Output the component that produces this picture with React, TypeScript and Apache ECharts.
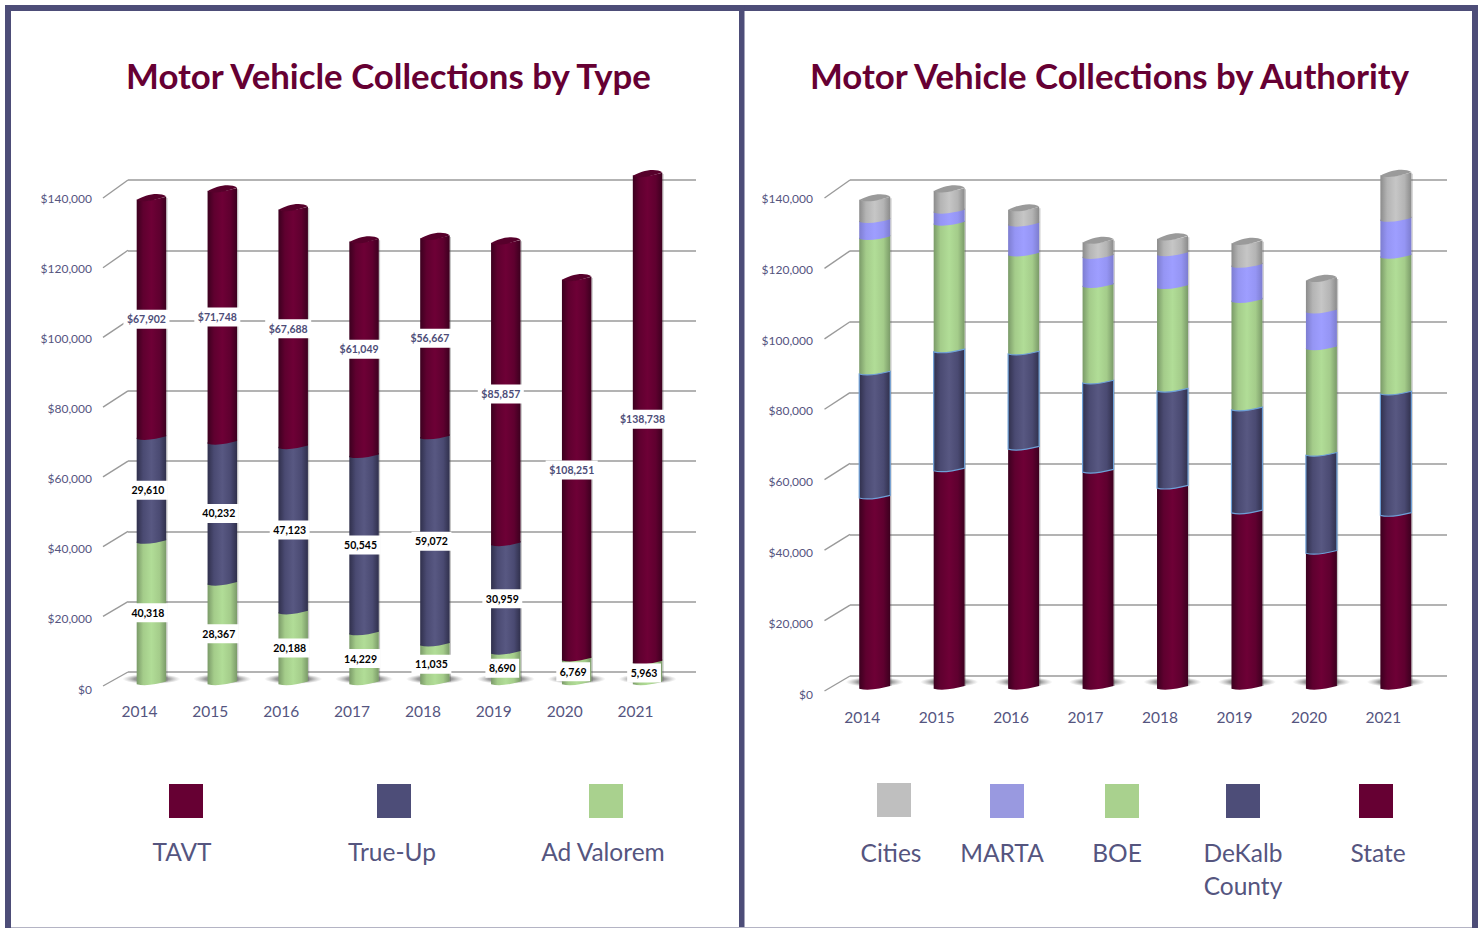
import React, { useEffect, useRef } from "react";
import * as echarts from "echarts";

const years = ["2014", "2015", "2016", "2017", "2018", "2019", "2020", "2021"];
const yTicks = [0, 20000, 40000, 60000, 80000, 100000, 120000, 140000];

const tavt = [67902, 71748, 67688, 61049, 56667, 85857, 108251, 138738];
const trueUp = [29610, 40232, 47123, 50545, 59072, 30959, 0, 0];
const adValorem = [40318, 28367, 20188, 14229, 11035, 8690, 6769, 5963];

const state = [53900, 61600, 67700, 61200, 56700, 49700, 38300, 49000];
const dekalb = [34650, 33200, 26500, 24800, 27000, 28700, 27300, 33900];
const boe = [38500, 36300, 28200, 27500, 29500, 30900, 30300, 38900];
const marta = [4800, 3400, 8450, 8200, 9300, 9900, 10400, 10400];
const cities = [5980, 5847, 4149, 4123, 4274, 6306, 8720, 12501];

const FONT = "Lato, 'Open Sans', sans-serif";
const NAVY = "#4d4d78";
const MAROON = "#660033";

type Pal = { edge: string; side: string; mid: string; cap: string; stroke?: string };
const pal: Record<string, Pal> = {
  maroon: { edge: "#3c001f", side: "#5f002f", mid: "#6e0036", cap: "#57002b" },
  navy: { edge: "#30304c", side: "#4a4a72", mid: "#585882", cap: "#3d3d60" },
  navyLine: { edge: "#30304c", side: "#4a4a72", mid: "#585882", cap: "#3d3d60", stroke: "#6ea0d8" },
  green: { edge: "#7a9a68", side: "#a4cc8a", mid: "#b1dd97", cap: "#8fb57a" },
  lilac: { edge: "#7d7dd0", side: "#9595f4", mid: "#9e9eff", cap: "#8484d8" },
  gray: { edge: "#8b8b8b", side: "#b4b4b4", mid: "#c6c6c6", cap: "#9a9a9a" },
};

function grad(p: Pal) {
  return new echarts.graphic.LinearGradient(0, 0, 1, 0, [
    { offset: 0, color: p.edge },
    { offset: 0.22, color: p.side },
    { offset: 0.5, color: p.mid },
    { offset: 0.78, color: p.side },
    { offset: 1, color: p.edge },
  ]);
}

function makeCylinders(p: Pal, dx: number, dy: number, width: number) {
  return (_: any, api: any) => {
    const i = api.value(0);
    const v0 = api.value(1);
    const v1 = api.value(2);
    if (v1 <= v0) return null;
    const c0 = api.coord([i, v0]);
    const c1 = api.coord([i, v1]);
    const x0 = c0[0] + dx - width / 2;
    const x1 = x0 + width;
    const y0 = c0[1] + dy;
    const y1 = c1[1] + dy;
    const t = 1.35;
    const s = 2.4;
    const a = x0 + width * 0.3;
    const b = x0 + width * 0.7;
    const d =
      `M${x0} ${y1 + t}C${a} ${y1 + t + s} ${b} ${y1 - t + s} ${x1} ${y1 - t}` +
      `L${x1} ${y0 - t}C${b} ${y0 - t + s} ${a} ${y0 + t + s} ${x0} ${y0 + t}Z`;
    const children: any[] = [
      {
        type: "line",
        shape: { x1: x1 + 0.7, y1: y1, x2: x1 + 0.7, y2: y0 },
        style: { stroke: "rgba(90,90,90,0.35)", lineWidth: 1.2 },
      },
      {
        type: "path",
        shape: { pathData: d, x: x0, y: y1 - t, width, height: y0 - y1 + 2 * t + s, layout: "cover" },
        style: { fill: grad(p), stroke: p.stroke || "none", lineWidth: p.stroke ? 1.2 : 0 },
      },
    ];
    if (api.value(3)) {
      const u = 3.6;
      const cap =
        `M${x0} ${y1 + t}C${x0 + width * 0.25} ${y1 + t - u} ${x0 + width * 0.75} ${y1 - t - u} ${x1} ${y1 - t}` +
        `C${b} ${y1 - t + s} ${a} ${y1 + t + s} ${x0} ${y1 + t}Z`;
      children.push({
        type: "path",
        shape: { pathData: cap, x: x0, y: y1 - t - 0.75 * u, width, height: 2 * t + 0.75 * u + 0.75 * s, layout: "cover" },
        style: { fill: p.cap },
      });
    }
    return { type: "group", children };
  };
}

function makeShadow(dx: number, dy: number) {
  return (_: any, api: any) => {
    const c = api.coord([api.value(0), 0]);
    return {
      type: "circle",
      x: c[0] + dx,
      y: c[1] + dy,
      scaleX: 5.8,
      shape: { cx: 0, cy: 0, r: 5 },
      style: {
        fill: new echarts.graphic.RadialGradient(0.5, 0.5, 0.5, [
          { offset: 0, color: "rgba(60,60,60,0.8)" },
          { offset: 0.6, color: "rgba(90,90,90,0.6)" },
          { offset: 1, color: "rgba(140,140,140,0)" },
        ]),
      },
    };
  };
}

function makeDiagonals(dx: number, dyTop: number, dyBottom: number) {
  return (_: any, api: any) => {
    const v = api.value(0);
    const c = api.coord([0, v]);
    const bandLeft = c[0] - api.size([1, 0])[0] / 2;
    const dy = dyBottom + ((dyTop - dyBottom) * v) / 140000;
    return {
      type: "line",
      shape: { x1: bandLeft, y1: c[1], x2: bandLeft - dx, y2: c[1] + dy },
      style: { stroke: "#9a9a9a", lineWidth: 1.4 },
    };
  };
}

function makeLabel(color: string, prefix: string, dx: number, dy: number) {
  return (_: any, api: any) => {
    const v0 = api.value(1);
    const v1 = api.value(2);
    if (v1 <= v0) return null;
    const c = api.coord([api.value(0), (v0 + v1) / 2]);
    return {
      type: "text",
      style: {
        x: c[0] + dx,
        y: c[1] + dy,
        text: prefix + (v1 - v0).toLocaleString("en-US"),
        align: "center",
        verticalAlign: "middle",
        fontFamily: FONT,
        fontWeight: "bold",
        fontSize: 10.5,
        fill: color,
        backgroundColor: "#fff",
        padding: [4, 3.5, 4, 3.5],
      },
    };
  };
}

function stackData(layers: number[][]) {
  return layers.map((vals, k) =>
    vals.map((v, i) => {
      let start = 0;
      for (let j = 0; j < k; j++) start += layers[j][i];
      let isTop = 1;
      for (let j = k + 1; j < layers.length; j++) if (layers[j][i] > 0) isTop = 0;
      return [i, start, start + v, isTop];
    })
  );
}

function buildOption() {
  const axisText = { color: "#55557f", fontFamily: FONT };
  const frontY = (grid: number) => ({
    type: "value",
    gridIndex: grid,
    min: 0,
    max: 140000,
    interval: 20000,
    axisLine: { show: false },
    axisTick: { show: false },
    splitLine: { show: false },
    axisLabel: {
      ...axisText,
      fontSize: 12,
      margin: 12,
      formatter: (v: number) => "$" + v.toLocaleString("en-US"),
    },
  });
  const backY = (grid: number) => ({
    type: "value",
    gridIndex: grid,
    min: 0,
    max: 140000,
    interval: 20000,
    axisLine: { show: false },
    axisTick: { show: false },
    axisLabel: { show: false },
    splitLine: { show: true, lineStyle: { color: "#9a9a9a", width: 1.5 } },
  });
  const frontX = (grid: number, margin: number) => ({
    type: "category",
    gridIndex: grid,
    data: years,
    axisLine: { show: false },
    axisTick: { show: false },
    splitLine: { show: false },
    axisLabel: { ...axisText, fontSize: 15.5, margin },
  });
  const backX = (grid: number) => ({
    type: "category",
    gridIndex: grid,
    data: years,
    axisLine: { show: false },
    axisTick: { show: false },
    axisLabel: { show: false },
    splitLine: { show: false },
  });

  const series: any[] = [];
  const tickData = yTicks.map((v) => [v]);
  const bar = (axis: number, rend: any, data: any[], z: number) =>
    series.push({
      type: "custom",
      xAxisIndex: axis,
      yAxisIndex: axis,
      renderItem: rend,
      data,
      z,
      silent: true,
      encode: { x: 0, y: [1, 2] },
      clip: false,
    });

  // left chart
  const leftDx = 12;
  const leftDy = -7.5;
  const leftW = 29.5;
  const leftStack = stackData([adValorem, trueUp, tavt]);
  series.push({
    type: "custom",
    xAxisIndex: 1,
    yAxisIndex: 1,
    renderItem: makeDiagonals(25, 18, 14),
    data: tickData,
    encode: { y: 0 },
    z: 1,
    silent: true,
    clip: false,
  });
  bar(0, makeShadow(leftDx, -10), leftStack[0], 2);
  [pal.green, pal.navy, pal.maroon].forEach((p, k) =>
    bar(0, makeCylinders(p, leftDx, leftDy, leftW), leftStack[k], 3)
  );
  bar(0, makeLabel("#000", "", leftDx - 3.5, -5.5), leftStack[0], 5);
  bar(0, makeLabel("#000", "", leftDx - 3.5, -5.5), leftStack[1], 5);
  bar(0, makeLabel(NAVY, "$", leftDx - 5, -5.5), leftStack[2], 5);

  // right chart
  const rightDx = 12.5;
  const rightDy = -8;
  const rightW = 31;
  const rightStack = stackData([state, dekalb, boe, marta, cities]);
  series.push({
    type: "custom",
    xAxisIndex: 3,
    yAxisIndex: 3,
    renderItem: makeDiagonals(25.5, 18, 15),
    data: tickData,
    encode: { y: 0 },
    z: 1,
    silent: true,
    clip: false,
  });
  bar(2, makeShadow(rightDx, -12), rightStack[0], 2);
  [pal.maroon, pal.navyLine, pal.green, pal.lilac, pal.gray].forEach((p, k) =>
    bar(2, makeCylinders(p, rightDx, rightDy, rightW), rightStack[k], k === 1 ? 4 : 3)
  );

  const square = (x: number, y: number, fill: string) => ({
    type: "rect",
    shape: { x, y, width: 34, height: 34 },
    style: { fill },
    silent: true,
  });
  const caption = (x: number, y: number, text: string) => ({
    type: "text",
    style: {
      x,
      y,
      text,
      align: "center",
      verticalAlign: "middle",
      fontFamily: FONT,
      fontSize: 24.5,
      fill: "#55557f",
    },
    silent: true,
  });
  const bar2 = (x: number, y: number, width: number, height: number, fill = NAVY) => ({
    type: "rect",
    shape: { x, y, width, height },
    style: { fill },
    silent: true,
  });

  const titleStyle = { color: MAROON, fontFamily: FONT, fontWeight: "bold", fontSize: 34.8 };

  return {
    animation: false,
    backgroundColor: "#fff",
    textStyle: { fontFamily: FONT },
    title: [
      {
        text: "Motor Vehicle Collections by Type",
        left: 388.5,
        top: 58,
        padding: 0,
        textAlign: "center",
        textStyle: titleStyle,
      },
      {
        text: "Motor Vehicle Collections by Authority",
        left: 1109.5,
        top: 58,
        padding: 0,
        textAlign: "center",
        textStyle: titleStyle,
      },
    ],
    grid: [
      { left: 104, width: 567, top: 198, height: 491 },
      { left: 128, width: 568, top: 180, height: 492 },
      { left: 825, width: 595.6, top: 198.5, height: 495.5 },
      { left: 850, width: 597, top: 180, height: 496 },
    ],
    xAxis: [frontX(0, 14), backX(1), frontX(2, 15), backX(3)],
    yAxis: [frontY(0), backY(1), frontY(2), backY(3)],
    series,
    graphic: [
      bar2(5, 5, 1473, 6),
      bar2(5, 5, 6, 923),
      bar2(739, 5, 5.5, 923),
      bar2(1472, 5, 6, 923),
      bar2(11, 927, 1461, 1, "#b4b4c4"),
      square(169, 784, MAROON),
      square(377, 784, NAVY),
      square(589, 784, "#a9d18e"),
      square(877, 783, "#bfbfbf"),
      square(990, 784, "#9999e0"),
      square(1105, 784, "#a9d18e"),
      square(1226, 784, NAVY),
      square(1359, 784, MAROON),
      caption(182, 851, "TAVT"),
      caption(392, 851, "True-Up"),
      caption(603, 851, "Ad Valorem"),
      caption(891, 852, "Cities"),
      caption(1002, 852, "MARTA"),
      caption(1117, 852, "BOE"),
      caption(1243, 852, "DeKalb"),
      caption(1243, 885, "County"),
      caption(1378, 852, "State"),
    ],
  };
}

export default function App() {
  const ref = useRef<HTMLDivElement>(null);
  useEffect(() => {
    const chart = echarts.init(ref.current!, null, { renderer: "svg" });
    chart.setOption(buildOption() as any);
    return () => chart.dispose();
  }, []);
  return (
    <div
      ref={ref}
      style={{ position: "absolute", left: 0, top: 0, width: 1479, height: 928, background: "#fff" }}
    />
  );
}
